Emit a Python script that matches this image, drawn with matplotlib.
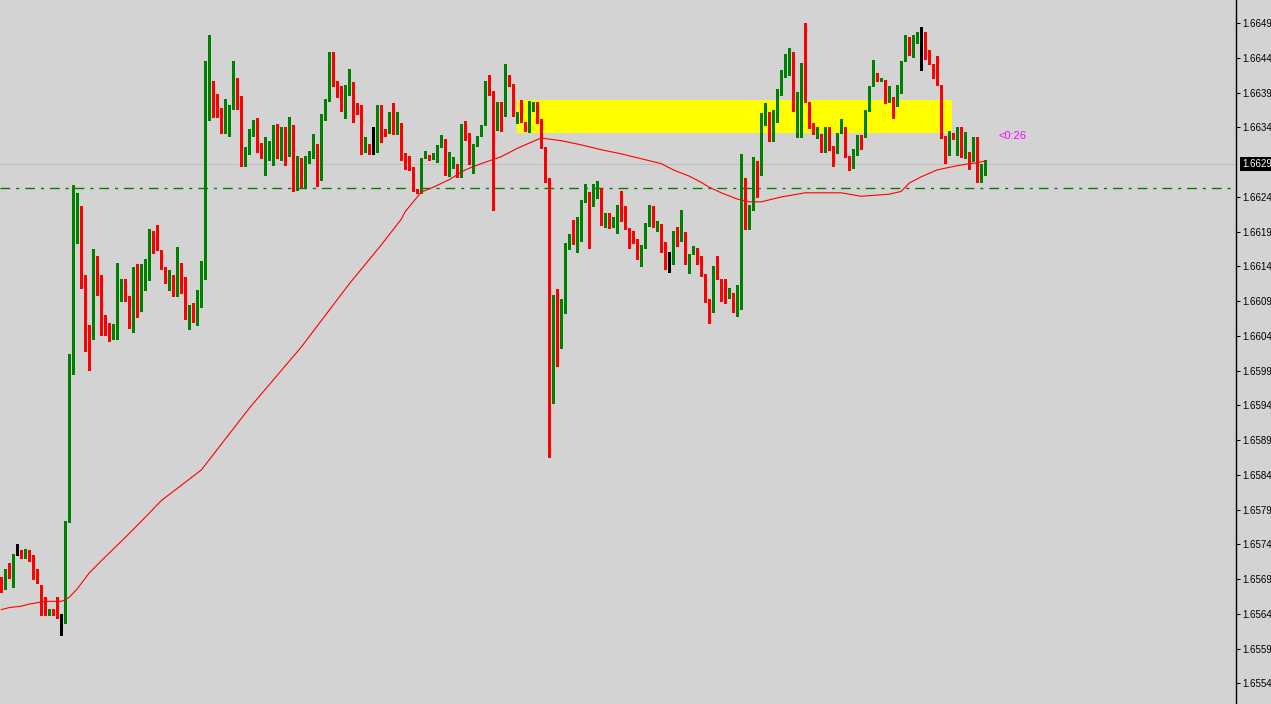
import numpy as np
import matplotlib.pyplot as plt
from matplotlib.patches import Rectangle
from matplotlib.transforms import blended_transform_factory

# prices are stored in points (1e-5) above 1.65000
base = 1.65

open_pts = [698, 681, 708, 697, 733, 735, 730, 734, 727, 700, 686, 648, 645, 652, 648, 639,
            639, 779, 1009, 1203, 1232, 1133, 1054, 1044, 1144, 1127, 1064, 1057, 1044, 1054,
            1116, 1120, 1103, 1057, 1123, 1081, 1120, 1136, 1189, 1182, 1169, 1143, 1123, 1133,
            1111, 1150, 1117, 1081, 1090, 1084, 1090, 1139, 1370, 1409, 1368, 1363, 1341, 1366,
            1376, 1416, 1390, 1289, 1307, 1333, 1356, 1314, 1307, 1308, 1310, 1345, 1305, 1314,
            1304, 1347, 1255, 1301, 1258, 1294, 1301, 1321, 1270, 1364, 1383, 1453, 1412, 1404,
            1369, 1402, 1409, 1380, 1377, 1315, 1321, 1308, 1310, 1370, 1343, 1337, 1364, 1336,
            1351, 1307, 1300, 1288, 1257, 1251, 1301, 1305, 1300, 1307, 1317, 1329, 1275, 1287,
            1293, 1274, 1351, 1337, 1294, 1318, 1333, 1348, 1412, 1397, 1341, 1380, 1361, 1421,
            1408, 1361, 1368, 1353, 1339, 1369, 1377, 1351, 1317, 1272, 948, 1088, 1028, 1084,
            1178, 1186, 1176, 1208, 1238, 1249, 1232, 1244, 1245, 1206, 1222, 1206, 1208, 1215,
            1218, 1200, 1192, 1185, 1172, 1172, 1203, 1229, 1202, 1206, 1180, 1149, 1149, 1192,
            1182, 1194, 1149, 1163, 1172, 1153, 1134, 1098, 1080, 1140, 1127, 1102, 1100, 1107,
            1078, 1091, 1272, 1199, 1226, 1297, 1277, 1362, 1367, 1326, 1368, 1392, 1418, 1431,
            1442, 1368, 1389, 1439, 1382, 1349, 1337, 1336, 1322, 1345, 1318, 1315, 1337, 1346,
            1304, 1286, 1314, 1334, 1331, 1369, 1404, 1424, 1412, 1414, 1382, 1389, 1376, 1400,
            1441, 1475, 1459, 1466, 1477, 1478, 1449, 1437, 1421, 1406, 1333, 1305, 1337, 1329,
            1345, 1307, 1310, 1297, 1317, 1275, 1289]
high_pts = [698, 710, 718, 731, 746, 737, 739, 737, 730, 710, 686, 669, 652, 652, 669, 645,
            779, 1019, 1262, 1251, 1232, 1133, 1061, 1170, 1160, 1133, 1075, 1064, 1062, 1150,
            1127, 1127, 1103, 1144, 1149, 1149, 1156, 1199, 1196, 1205, 1169, 1144, 1140, 1133,
            1173, 1150, 1130, 1090, 1092, 1111, 1153, 1440, 1478, 1412, 1393, 1373, 1386, 1377,
            1440, 1416, 1390, 1317, 1343, 1356, 1359, 1323, 1332, 1325, 1348, 1350, 1345, 1345,
            1360, 1349, 1304, 1301, 1304, 1311, 1336, 1321, 1364, 1386, 1454, 1454, 1412, 1404,
            1406, 1429, 1410, 1380, 1377, 1331, 1321, 1346, 1377, 1377, 1343, 1368, 1380, 1368,
            1351, 1308, 1304, 1288, 1257, 1301, 1311, 1305, 1308, 1320, 1334, 1329, 1310, 1302,
            1293, 1350, 1354, 1337, 1321, 1333, 1348, 1412, 1421, 1397, 1382, 1382, 1437, 1421,
            1408, 1368, 1385, 1353, 1383, 1382, 1382, 1357, 1317, 1272, 1104, 1113, 1098, 1179,
            1192, 1212, 1216, 1241, 1264, 1252, 1264, 1268, 1258, 1222, 1222, 1216, 1234, 1254,
            1232, 1200, 1196, 1185, 1176, 1208, 1234, 1232, 1211, 1206, 1180, 1166, 1196, 1202,
            1226, 1194, 1163, 1175, 1172, 1160, 1134, 1098, 1145, 1160, 1127, 1127, 1114, 1107,
            1118, 1307, 1272, 1234, 1303, 1297, 1366, 1380, 1367, 1370, 1400, 1428, 1451, 1459,
            1454, 1396, 1438, 1495, 1382, 1352, 1345, 1336, 1345, 1345, 1318, 1337, 1357, 1346,
            1304, 1314, 1334, 1334, 1370, 1404, 1442, 1424, 1416, 1414, 1404, 1389, 1406, 1441,
            1478, 1475, 1478, 1482, 1489, 1483, 1457, 1437, 1448, 1406, 1333, 1340, 1337, 1345,
            1345, 1339, 1310, 1331, 1331, 1293, 1298]
low_pts = [677, 681, 696, 684, 730, 725, 725, 721, 695, 689, 643, 643, 643, 643, 639, 615,
           632, 777, 990, 1179, 1114, 1024, 996, 1041, 1104, 1046, 1046, 1038, 1041, 1041,
           1095, 1095, 1057, 1051, 1072, 1081, 1111, 1126, 1164, 1169, 1141, 1121, 1111, 1103,
           1103, 1107, 1069, 1055, 1065, 1061, 1087, 1127, 1356, 1360, 1360, 1337, 1337, 1333,
           1372, 1372, 1289, 1289, 1307, 1333, 1310, 1301, 1277, 1298, 1291, 1301, 1298, 1291,
           1304, 1254, 1255, 1259, 1258, 1294, 1301, 1261, 1270, 1356, 1383, 1404, 1389, 1369,
           1359, 1392, 1353, 1365, 1307, 1309, 1307, 1307, 1310, 1324, 1333, 1337, 1336, 1336,
           1298, 1285, 1284, 1254, 1251, 1251, 1301, 1298, 1300, 1295, 1317, 1277, 1275, 1287,
           1274, 1274, 1327, 1293, 1280, 1318, 1333, 1348, 1392, 1226, 1341, 1340, 1361, 1404,
           1361, 1351, 1353, 1340, 1339, 1369, 1351, 1315, 1267, 871, 948, 1002, 1028, 1078,
           1170, 1177, 1166, 1182, 1238, 1172, 1232, 1244, 1205, 1202, 1200, 1202, 1193, 1210,
           1199, 1172, 1179, 1156, 1146, 1172, 1203, 1202, 1196, 1166, 1141, 1137, 1149, 1175,
           1182, 1149, 1136, 1163, 1149, 1131, 1094, 1064, 1080, 1127, 1095, 1093, 1100, 1080,
           1074, 1084, 1199, 1199, 1226, 1245, 1277, 1349, 1326, 1326, 1353, 1392, 1418, 1421,
           1369, 1331, 1331, 1382, 1344, 1335, 1330, 1310, 1310, 1312, 1290, 1308, 1337, 1302,
           1284, 1286, 1305, 1314, 1331, 1369, 1404, 1412, 1412, 1380, 1382, 1359, 1376, 1395,
           1441, 1449, 1446, 1466, 1428, 1443, 1436, 1416, 1406, 1330, 1294, 1305, 1329, 1305,
           1302, 1301, 1285, 1297, 1267, 1267, 1277]
close_pts = [681, 708, 697, 731, 733, 731, 735, 725, 695, 691, 646, 645, 652, 646, 639, 639,
             779, 1012, 1203, 1232, 1131, 1061, 1041, 1146, 1113, 1061, 1055, 1044, 1057, 1116,
             1120, 1103, 1057, 1121, 1082, 1123, 1137, 1189, 1179, 1169, 1141, 1121, 1133, 1111,
             1151, 1116, 1081, 1090, 1082, 1094, 1140, 1374, 1406, 1366, 1365, 1345, 1368, 1377,
             1418, 1392, 1289, 1310, 1334, 1356, 1313, 1307, 1313, 1311, 1334, 1305, 1317, 1304,
             1349, 1254, 1302, 1259, 1295, 1304, 1321, 1270, 1364, 1386, 1453, 1412, 1402, 1369,
             1404, 1406, 1382, 1376, 1315, 1321, 1307, 1308, 1370, 1343, 1333, 1363, 1337, 1350,
             1308, 1298, 1290, 1254, 1252, 1301, 1308, 1303, 1308, 1320, 1329, 1277, 1288, 1293,
             1274, 1350, 1334, 1293, 1321, 1333, 1348, 1412, 1396, 1340, 1378, 1356, 1421, 1408,
             1361, 1368, 1353, 1340, 1370, 1377, 1351, 1315, 1274, 960, 1091, 1028, 1084, 1179,
             1187, 1177, 1209, 1241, 1248, 1231, 1245, 1247, 1205, 1222, 1206, 1210, 1216, 1214,
             1199, 1190, 1183, 1172, 1176, 1205, 1229, 1202, 1205, 1178, 1146, 1149, 1190, 1183,
             1194, 1149, 1163, 1170, 1153, 1131, 1097, 1080, 1140, 1134, 1095, 1097, 1107, 1080,
             1091, 1272, 1202, 1234, 1298, 1277, 1365, 1366, 1326, 1367, 1392, 1417, 1431, 1442,
             1369, 1389, 1438, 1382, 1349, 1337, 1340, 1317, 1345, 1317, 1311, 1337, 1346, 1302,
             1284, 1314, 1334, 1331, 1370, 1404, 1424, 1412, 1416, 1382, 1389, 1375, 1406, 1441,
             1475, 1460, 1466, 1477, 1477, 1443, 1436, 1419, 1406, 1330, 1303, 1340, 1329, 1345,
             1305, 1310, 1298, 1317, 1275, 1293, 1292]

# moving average (bar index, points)
ma_idx = [0, 2, 5, 7, 10, 12, 15, 16, 17, 19, 22, 26, 31, 36, 40, 50, 62, 75, 87, 95, 100, 101,
          105, 108, 112, 116, 120, 125, 129, 133, 135, 136, 140, 145, 150, 155, 160, 165, 168,
          172, 175, 177, 180, 184, 187, 190, 195, 201, 210, 215, 222, 225, 227, 230, 234, 239,
          242, 244, 246]
ma_pts = [651, 654, 656, 659, 662, 663, 663, 665, 669, 681, 704, 727, 755, 784, 808, 852, 941,
          1029, 1120, 1176, 1213, 1224, 1252, 1259, 1270, 1284, 1293, 1303, 1315, 1325, 1330,
          1329, 1326, 1320, 1313, 1307, 1300, 1293, 1284, 1275, 1266, 1259, 1251, 1242, 1238,
          1238, 1245, 1251, 1251, 1246, 1249, 1253, 1265, 1274, 1284, 1290, 1293, 1294, 1297]

level_price = 1.66258          # dash-dot horizontal line
zone_bars = (128.9, 237.8)     # yellow rectangle, bar index range
zone_prices = (1.66337, 1.66385)
last_price = 1.66292
timer_text = "<0:26"
timer_pos = (249.2, 1.66333)
tick_prices = [1.65545, 1.65595, 1.65645, 1.65695, 1.65745, 1.65795, 1.65845, 1.65895,
               1.65945, 1.65995, 1.66045, 1.66095, 1.66145, 1.66195, 1.66245,
               1.66345, 1.66395, 1.66445, 1.66495]

bg = '#d3d3d3'
fig = plt.figure(figsize=(12.71, 7.04), dpi=100)
fig.patch.set_facecolor(bg)
ax = fig.add_axes([0, 0, 1236 / 1271, 1])
ax.set_facecolor(bg)

o = base + np.array(open_pts) * 1e-5
h = base + np.array(high_pts) * 1e-5
l = base + np.array(low_pts) * 1e-5
c = base + np.array(close_pts) * 1e-5
idx = np.arange(len(o))
colors = np.where(c > o, '#008000', np.where(c < o, '#ff0000', 'black'))

# zone and reference lines
ax.add_patch(Rectangle((zone_bars[0], zone_prices[0]), zone_bars[1] - zone_bars[0],
                       zone_prices[1] - zone_prices[0], facecolor='yellow', edgecolor='none',
                       zorder=0.5))
ax.axhline(last_price, color='#bdbdbd', lw=0.75, zorder=0.6)
ax.axhline(level_price, color='#008000', lw=1.0, dashes=(7, 4.3, 2.2, 4.3), zorder=1)

# candles
ax.vlines(idx, l, h, colors=colors, linewidth=0.75, antialiased=False, zorder=2)
body_low = np.minimum(o, c)
body_h = np.maximum(np.abs(c - o), 1.3e-5)
ax.bar(idx, body_h, bottom=body_low, width=0.75, color=colors, linewidth=0,
       antialiased=False, zorder=3)

# moving average
ax.plot(ma_idx, base + np.array(ma_pts) * 1e-5, color='#ff0000', lw=0.8, zorder=4)

ax.text(timer_pos[0], timer_pos[1], timer_text, color='#ff00ff', fontsize=8,
        family='Liberation Sans', va='center', ha='left')

ax.set_xlim(-0.325, 308.7)
ax.set_ylim(1.655152, 1.665285)

# right price scale
for s in ['left', 'top', 'bottom']:
    ax.spines[s].set_visible(False)
ax.spines['right'].set_color('black')
ax.spines['right'].set_linewidth(1.0)
ax.set_xticks([])
ax.yaxis.tick_right()
ax.set_yticks(tick_prices)
ax.set_yticklabels([f'{p:.5f}' for p in tick_prices])
ax.tick_params(axis='y', direction='out', length=3, width=0.75, pad=1.5, labelsize=7,
               colors='black')
for t in ax.get_yticklabels():
    t.set_family('Liberation Sans')

tr = blended_transform_factory(ax.transAxes, ax.transData)
ax.text(1.0048, last_price, f'{last_price:.5f}', transform=tr, color='white', fontsize=7,
        family='Liberation Sans', va='center', ha='left', clip_on=False,
        bbox=dict(boxstyle='square,pad=0.2', fc='black', ec='none'))

fig.savefig('out.png', dpi=100, facecolor=bg)
